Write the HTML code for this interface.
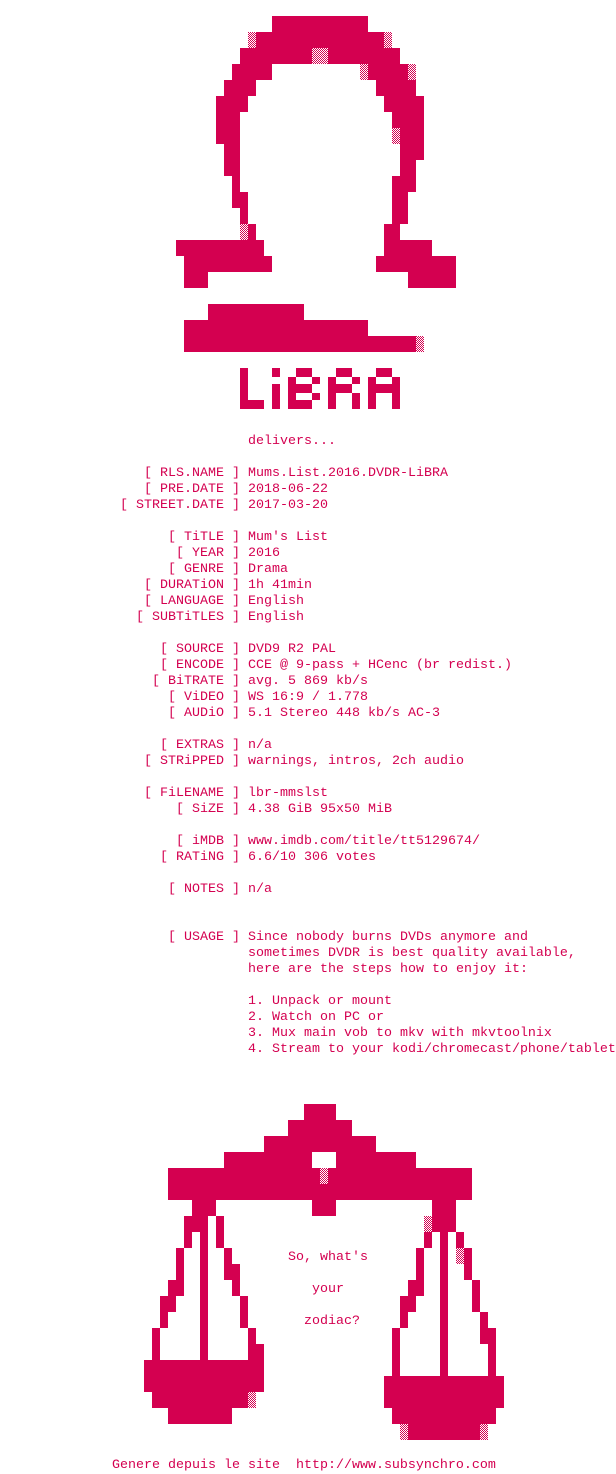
<!DOCTYPE html>
<html><head><meta charset="utf-8"><style>
html,body{margin:0;padding:0;background:#fff;}
body{width:616px;height:1472px;position:relative;overflow:hidden;font-family:"Liberation Mono",monospace;font-size:13.33px;color:#d40050;}
svg{position:absolute;left:0;top:0;}
.t{position:absolute;left:0;top:434px;width:616px;}
.r{height:16px;line-height:16px;white-space:pre;position:relative;}
.l{position:absolute;right:376px;top:0;}
.v{position:absolute;left:248px;top:0;}
.a{position:absolute;white-space:pre;line-height:16px;}
</style></head><body>
<svg width="616" height="1472" xmlns="http://www.w3.org/2000/svg">
<defs><pattern id="d" width="2" height="2" patternUnits="userSpaceOnUse"><rect x="0" y="0" width="1" height="1" fill="#d40050"/><rect x="1" y="1" width="1" height="1" fill="#d40050"/></pattern></defs>
<g fill="#d40050">
<rect x="272" y="16" width="96" height="16"/>
<rect x="256" y="32" width="128" height="16"/>
<rect x="240" y="48" width="72" height="16"/><rect x="328" y="48" width="72" height="16"/>
<rect x="232" y="64" width="40" height="16"/><rect x="368" y="64" width="40" height="16"/>
<rect x="224" y="80" width="32" height="16"/><rect x="376" y="80" width="40" height="16"/>
<rect x="216" y="96" width="32" height="16"/><rect x="384" y="96" width="40" height="16"/>
<rect x="216" y="112" width="24" height="32"/><rect x="392" y="112" width="32" height="16"/>
<rect x="400" y="128" width="24" height="16"/>
<rect x="224" y="144" width="16" height="32"/><rect x="400" y="144" width="24" height="16"/>
<rect x="400" y="160" width="16" height="16"/>
<rect x="232" y="176" width="8" height="32"/><rect x="392" y="176" width="24" height="16"/>
<rect x="240" y="192" width="8" height="16"/><rect x="392" y="192" width="16" height="32"/>
<rect x="240" y="208" width="8" height="16"/>
<rect x="248" y="224" width="8" height="16"/><rect x="384" y="224" width="16" height="16"/>
<rect x="176" y="240" width="88" height="16"/><rect x="384" y="240" width="48" height="16"/>
<rect x="184" y="256" width="88" height="16"/><rect x="376" y="256" width="80" height="16"/>
<rect x="184" y="272" width="24" height="16"/><rect x="408" y="272" width="48" height="16"/>
<rect x="208" y="304" width="96" height="16"/>
<rect x="184" y="320" width="184" height="16"/>
<rect x="184" y="336" width="232" height="16"/>
<rect x="240" y="368" width="8" height="41"/><rect x="248" y="400" width="16" height="9"/>
<rect x="272" y="368" width="8" height="9"/><rect x="272" y="384" width="8" height="25"/>
<rect x="288" y="377" width="8" height="32"/><rect x="296" y="368" width="16" height="9"/><rect x="312" y="377" width="8" height="7"/><rect x="296" y="384" width="16" height="9"/><rect x="312" y="393" width="8" height="7"/><rect x="296" y="400" width="16" height="9"/>
<rect x="328" y="377" width="8" height="32"/><rect x="336" y="368" width="16" height="9"/><rect x="352" y="377" width="8" height="7"/><rect x="336" y="384" width="16" height="9"/><rect x="352" y="393" width="8" height="16"/>
<rect x="368" y="377" width="8" height="32"/><rect x="376" y="368" width="16" height="9"/><rect x="392" y="377" width="8" height="32"/><rect x="376" y="384" width="16" height="9"/>
<rect x="304" y="1104" width="32" height="16"/>
<rect x="288" y="1120" width="64" height="16"/>
<rect x="264" y="1136" width="112" height="16"/>
<rect x="224" y="1152" width="88" height="16"/><rect x="336" y="1152" width="80" height="16"/>
<rect x="168" y="1168" width="152" height="32"/><rect x="328" y="1168" width="144" height="32"/><rect x="320" y="1184" width="8" height="16"/>
<rect x="192" y="1200" width="24" height="16"/><rect x="312" y="1200" width="24" height="16"/><rect x="432" y="1200" width="24" height="16"/>
<rect x="184" y="1216" width="24" height="16"/><rect x="216" y="1216" width="8" height="32"/>
<rect x="200" y="1216" width="8" height="144"/>
<rect x="184" y="1232" width="8" height="16"/>
<rect x="176" y="1248" width="8" height="32"/><rect x="224" y="1248" width="8" height="16"/>
<rect x="224" y="1264" width="16" height="16"/>
<rect x="168" y="1280" width="16" height="16"/><rect x="232" y="1280" width="8" height="16"/>
<rect x="160" y="1296" width="16" height="16"/><rect x="240" y="1296" width="8" height="32"/>
<rect x="160" y="1312" width="8" height="16"/>
<rect x="152" y="1328" width="8" height="32"/><rect x="248" y="1328" width="8" height="16"/>
<rect x="248" y="1344" width="16" height="16"/>
<rect x="144" y="1360" width="120" height="32"/>
<rect x="152" y="1392" width="96" height="16"/>
<rect x="168" y="1408" width="64" height="16"/>
<rect x="432" y="1216" width="24" height="16"/>
<rect x="424" y="1232" width="8" height="16"/><rect x="440" y="1232" width="8" height="144"/><rect x="456" y="1232" width="8" height="16"/>
<rect x="416" y="1248" width="8" height="32"/><rect x="464" y="1248" width="8" height="32"/>
<rect x="408" y="1280" width="16" height="16"/><rect x="472" y="1280" width="8" height="32"/>
<rect x="400" y="1296" width="16" height="16"/>
<rect x="400" y="1312" width="8" height="16"/><rect x="480" y="1312" width="8" height="16"/>
<rect x="392" y="1328" width="8" height="48"/><rect x="480" y="1328" width="16" height="16"/><rect x="488" y="1344" width="8" height="32"/>
<rect x="384" y="1376" width="120" height="32"/>
<rect x="392" y="1408" width="104" height="16"/>
<rect x="408" y="1424" width="72" height="16"/>
</g>
<g fill="url(#d)">
<rect x="248" y="32" width="8" height="16"/><rect x="384" y="32" width="8" height="16"/>
<rect x="312" y="48" width="16" height="16"/>
<rect x="360" y="64" width="8" height="16"/><rect x="408" y="64" width="8" height="16"/>
<rect x="392" y="128" width="8" height="16"/>
<rect x="240" y="224" width="8" height="16"/>
<rect x="416" y="336" width="8" height="16"/>
<rect x="320" y="1168" width="8" height="16"/>
<rect x="248" y="1392" width="8" height="16"/>
<rect x="424" y="1216" width="8" height="16"/>
<rect x="456" y="1248" width="8" height="16"/>
<rect x="400" y="1424" width="8" height="16"/><rect x="480" y="1424" width="8" height="16"/>
</g>
</svg>
<div class="t">
<div class="r"><span class="v">delivers...</span></div>
<div class="r"></div>
<div class="r"><span class="l">[ RLS.NAME ]</span><span class="v">Mums.List.2016.DVDR-LiBRA</span></div>
<div class="r"><span class="l">[ PRE.DATE ]</span><span class="v">2018-06-22</span></div>
<div class="r"><span class="l">[ STREET.DATE ]</span><span class="v">2017-03-20</span></div>
<div class="r"></div>
<div class="r"><span class="l">[ TiTLE ]</span><span class="v">Mum's List</span></div>
<div class="r"><span class="l">[ YEAR ]</span><span class="v">2016</span></div>
<div class="r"><span class="l">[ GENRE ]</span><span class="v">Drama</span></div>
<div class="r"><span class="l">[ DURATiON ]</span><span class="v">1h 41min</span></div>
<div class="r"><span class="l">[ LANGUAGE ]</span><span class="v">English</span></div>
<div class="r"><span class="l">[ SUBTiTLES ]</span><span class="v">English</span></div>
<div class="r"></div>
<div class="r"><span class="l">[ SOURCE ]</span><span class="v">DVD9 R2 PAL</span></div>
<div class="r"><span class="l">[ ENCODE ]</span><span class="v">CCE @ 9-pass + HCenc (br redist.)</span></div>
<div class="r"><span class="l">[ BiTRATE ]</span><span class="v">avg. 5 869 kb/s</span></div>
<div class="r"><span class="l">[ ViDEO ]</span><span class="v">WS 16:9 / 1.778</span></div>
<div class="r"><span class="l">[ AUDiO ]</span><span class="v">5.1 Stereo 448 kb/s AC-3</span></div>
<div class="r"></div>
<div class="r"><span class="l">[ EXTRAS ]</span><span class="v">n/a</span></div>
<div class="r"><span class="l">[ STRiPPED ]</span><span class="v">warnings, intros, 2ch audio</span></div>
<div class="r"></div>
<div class="r"><span class="l">[ FiLENAME ]</span><span class="v">lbr-mmslst</span></div>
<div class="r"><span class="l">[ SiZE ]</span><span class="v">4.38 GiB 95x50 MiB</span></div>
<div class="r"></div>
<div class="r"><span class="l">[ iMDB ]</span><span class="v">www.imdb.com/title/tt5129674/</span></div>
<div class="r"><span class="l">[ RATiNG ]</span><span class="v">6.6/10 306 votes</span></div>
<div class="r"></div>
<div class="r"><span class="l">[ NOTES ]</span><span class="v">n/a</span></div>
<div class="r"></div>
<div class="r"></div>
<div class="r"><span class="l">[ USAGE ]</span><span class="v">Since nobody burns DVDs anymore and</span></div>
<div class="r"><span class="v">sometimes DVDR is best quality available,</span></div>
<div class="r"><span class="v">here are the steps how to enjoy it:</span></div>
<div class="r"></div>
<div class="r"><span class="v">1. Unpack or mount</span></div>
<div class="r"><span class="v">2. Watch on PC or</span></div>
<div class="r"><span class="v">3. Mux main vob to mkv with mkvtoolnix</span></div>
<div class="r"><span class="v">4. Stream to your kodi/chromecast/phone/tablet</span></div>
</div>
<div class="a" style="left:288px;top:1250px;">So, what's</div>
<div class="a" style="left:312px;top:1282px;">your</div>
<div class="a" style="left:304px;top:1314px;">zodiac?</div>
<div class="a" style="left:112px;top:1458px;">Genere depuis le site  http://www.subsynchro.com</div>
</body></html>
